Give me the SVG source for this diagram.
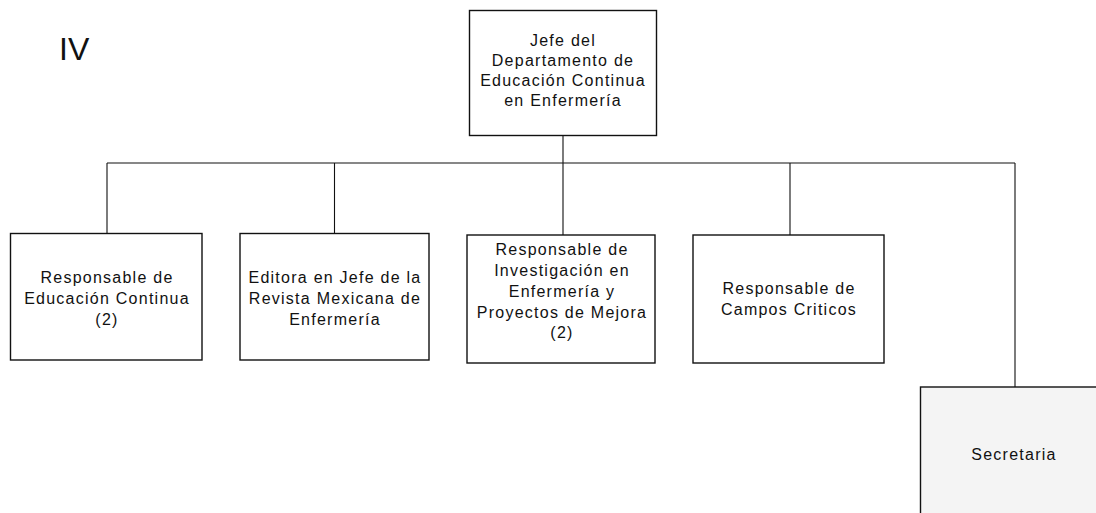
<svg xmlns="http://www.w3.org/2000/svg" width="1096" height="513" viewBox="0 0 1096 513">
<style>
.box{fill:#fff;stroke:#111;stroke-width:1.4}
.sec{fill:#f4f4f4;stroke:#111;stroke-width:1.4}
.t{font-family:"Liberation Sans",Arial,sans-serif;font-size:16px;fill:#111;text-anchor:middle;letter-spacing:1.25px}
.c{stroke:#111;stroke-width:1.1;fill:none}
</style>
<rect width="1096" height="513" fill="#fff"/>
<text x="59" y="60" font-family="'Liberation Sans',Arial,sans-serif" font-size="32" fill="#111">IV</text>
<g id="connectors">
<path class="c" d="M563 135V235M107 163H1015M107 163V233M334.5 163V233M790 163V235M1015 163V387"/>
</g>
<g id="jefe">
<rect class="box" x="469.5" y="10.5" width="187" height="125"/>
<text class="t" x="563" y="46">Jefe del</text>
<text class="t" x="563" y="66">Departamento de</text>
<text class="t" x="563" y="86">Educación Continua</text>
<text class="t" x="563" y="106">en Enfermería</text>
</g>
<g id="resp-educacion">
<rect class="box" x="10.5" y="233.5" width="191.5" height="126.5"/>
<text class="t" x="107" y="283">Responsable de</text>
<text class="t" x="107" y="304">Educación Continua</text>
<text class="t" x="107" y="325">(2)</text>
</g>
<g id="editora">
<rect class="box" x="240" y="233.5" width="189" height="126.5"/>
<text class="t" x="335" y="283">Editora en Jefe de la</text>
<text class="t" x="335" y="304">Revista Mexicana de</text>
<text class="t" x="335" y="325">Enfermería</text>
</g>
<g id="resp-investigacion">
<rect class="box" x="467" y="235" width="188" height="128"/>
<text class="t" x="562" y="255">Responsable de</text>
<text class="t" x="562" y="276">Investigación en</text>
<text class="t" x="562" y="297">Enfermería y</text>
<text class="t" x="562" y="318">Proyectos de Mejora</text>
<text class="t" x="562" y="338">(2)</text>
</g>
<g id="resp-campos">
<rect class="box" x="693" y="235" width="191" height="128"/>
<text class="t" x="789" y="294">Responsable de</text>
<text class="t" x="789" y="315">Campos Criticos</text>
</g>
<g id="secretaria">
<rect class="sec" x="920.5" y="387" width="190" height="140"/>
<text class="t" x="1014" y="460">Secretaria</text>
</g>
</svg>
